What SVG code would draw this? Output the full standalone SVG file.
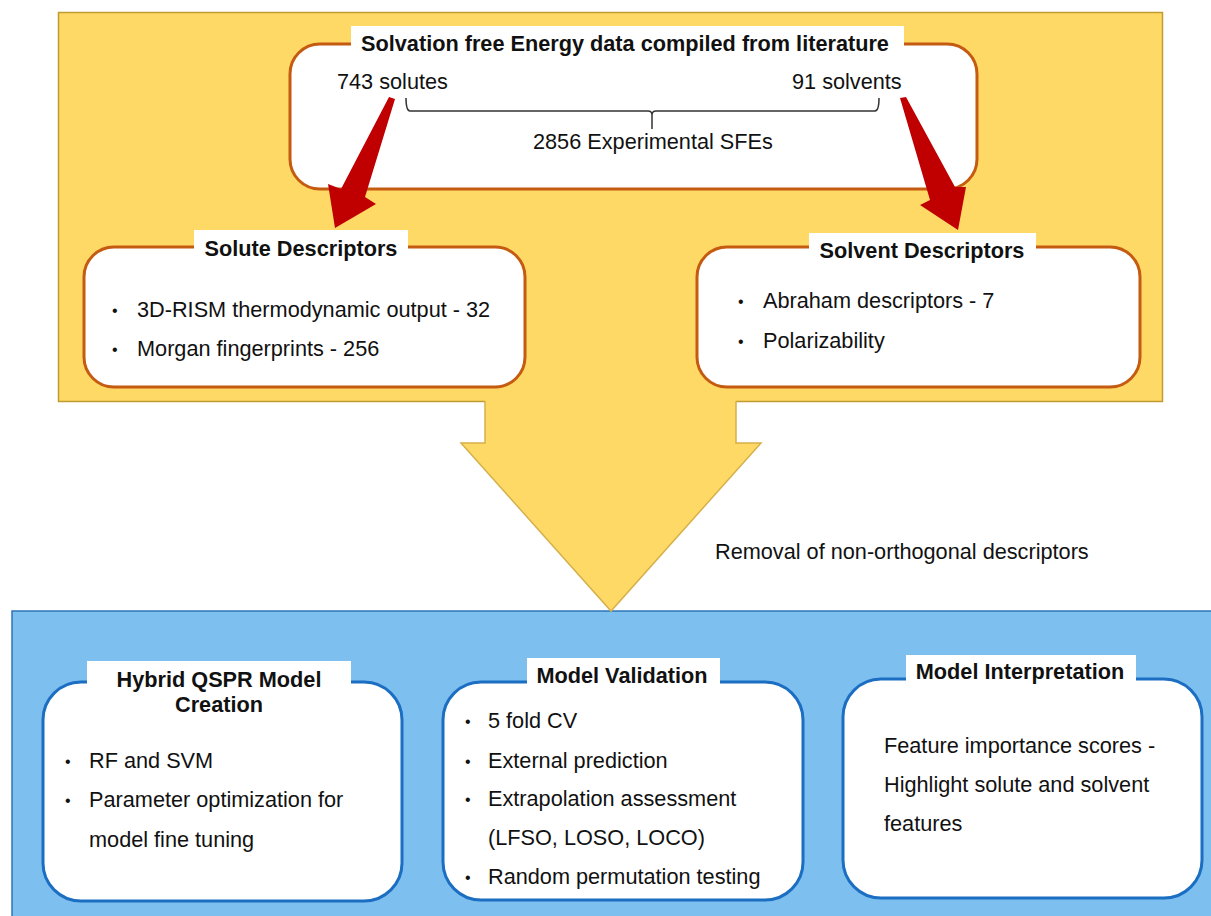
<svg xmlns="http://www.w3.org/2000/svg" width="1211" height="916" viewBox="0 0 1211 916">
<style>
text{font-family:"Liberation Sans",Arial,sans-serif;font-size:21.7px;fill:#111;}
.b{font-weight:bold;text-anchor:middle;}
.u{font-size:16px;}
.ob{fill:#fff;stroke:#C55A11;stroke-width:3;}
.bb{fill:#fff;stroke:#1B6EC2;stroke-width:3;}
.lbl{fill:#fff;stroke:none;}
.red{fill:#C00000;stroke:none;}
</style>
<rect width="1211" height="916" fill="#fff"/>
<g id="panel-yellow"><rect x="58.5" y="12.5" width="1104" height="389" fill="#FFD966" stroke="#BF9B30" stroke-width="1.5"/></g>
<g id="panel-blue"><rect x="12" y="611" width="1205" height="310" fill="#7DBFEE" stroke="#2E75B6" stroke-width="1.5"/></g>
<g id="connectors">
<path d="M485,399 V443 H461 L611,611 L761,443 H736 V399 Z" fill="#FFD966" stroke="none"/>
<path d="M485,401 V443 H461 L611,611 L761,443 H736 V401" fill="none" stroke="#D6B04A" stroke-width="1.5"/>
</g>
<g id="node-top">
<rect class="ob" x="290" y="44" width="687" height="145" rx="30"/>
<rect class="lbl" x="351" y="26" width="553" height="32"/>
<text class="b" x="625" y="51">Solvation free Energy data compiled from literature</text>
<text x="337" y="89">743 solutes</text>
<text x="792" y="89">91 solvents</text>
<path d="M406,98 Q406,111 410,111 H648 Q652,111 652,115 V129 M652,115 Q652,111 656,111 H875 Q879,111 879,98" fill="none" stroke="#333" stroke-width="1.5"/>
<text x="533" y="149">2856 Experimental SFEs</text>
</g>
<g id="node-solute">
<rect class="ob" x="84" y="247" width="441" height="140" rx="30"/>
<rect class="lbl" x="194" y="230" width="214" height="30"/>
<text class="b" x="301" y="256">Solute Descriptors</text>
<text class="u" x="112" y="316">•</text><text x="137" y="317">3D-RISM thermodynamic output - 32</text>
<text class="u" x="112" y="355">•</text><text x="137" y="356">Morgan fingerprints - 256</text>
</g>
<g id="node-solvent">
<rect class="ob" x="697" y="247" width="443" height="140" rx="30"/>
<rect class="lbl" x="809" y="233" width="227" height="29"/>
<text class="b" x="922" y="258">Solvent Descriptors</text>
<text class="u" x="738" y="307">•</text><text x="763" y="308">Abraham descriptors - 7</text>
<text class="u" x="738" y="347">•</text><text x="763" y="348">Polarizability</text>
</g>
<g id="red-arrows">
<polygon class="red" points="389,97 395,99 365,197 376,204 335,228 328,184 341,189"/>
<polygon class="red" points="900,98 906,97 955,187 966,187 958,230 920,205 930,200"/>
</g>
<g id="label-removal"><text x="715" y="559">Removal of non-orthogonal descriptors</text></g>
<g id="node-qspr">
<rect class="bb" x="43" y="682" width="359" height="219" rx="38"/>
<rect class="lbl" x="87" y="661" width="264" height="60"/>
<text class="b" x="219" y="687">Hybrid QSPR Model</text>
<text class="b" x="219" y="712">Creation</text>
<text class="u" x="65" y="767">•</text><text x="89" y="768">RF and SVM</text>
<text class="u" x="65" y="806">•</text><text x="89" y="807">Parameter optimization for</text>
<text x="89" y="847">model fine tuning</text>
</g>
<g id="node-validation">
<rect class="bb" x="443" y="682" width="360" height="218" rx="38"/>
<rect class="lbl" x="527" y="658" width="193" height="34"/>
<text class="b" x="622" y="683">Model Validation</text>
<text class="u" x="465" y="727">•</text><text x="488" y="728">5 fold CV</text>
<text class="u" x="465" y="767">•</text><text x="488" y="768">External prediction</text>
<text class="u" x="465" y="805">•</text><text x="488" y="806">Extrapolation assessment</text>
<text x="488" y="845">(LFSO, LOSO, LOCO)</text>
<text class="u" x="465" y="883">•</text><text x="488" y="884">Random permutation testing</text>
</g>
<g id="node-interpretation">
<rect class="bb" x="843" y="679" width="359" height="219" rx="38"/>
<rect class="lbl" x="906" y="655" width="230" height="34"/>
<text class="b" x="1020" y="679">Model Interpretation</text>
<text x="884" y="753">Feature importance scores -</text>
<text x="884" y="792">Highlight solute and solvent</text>
<text x="884" y="831">features</text>
</g>
</svg>
